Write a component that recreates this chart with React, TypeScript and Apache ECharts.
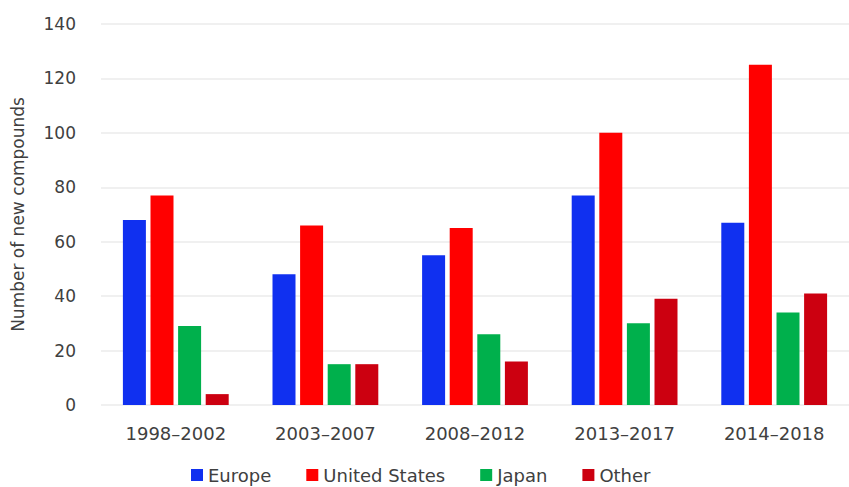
import React, { useEffect, useRef } from "react";
import * as echarts from "echarts";

const categories = ["1998–2002", "2003–2007", "2008–2012", "2013–2017", "2014–2018"];
const europe = [68, 48, 55, 77, 67];
const unitedStates = [77, 66, 65, 100, 125];
const japan = [29, 15, 26, 30, 34];
const other = [4, 15, 16, 39, 41];
const yTicks = { min: 0, max: 140, interval: 20 };

const FONT = "DejaVu Sans";
const TEXT = "#404040";

export default function App() {
  const ref = useRef<HTMLDivElement>(null);
  useEffect(() => {
    if (!ref.current) return;
    document.body.style.margin = "0";
    document.body.style.overflow = "hidden";
    const chart = echarts.init(ref.current, null, { renderer: "svg" });
    const mk = (name: string, data: number[], color: string) => ({
      name,
      type: "bar",
      data,
      barWidth: 23,
      barGap: "20%",
      itemStyle: { color },
    });
    chart.setOption({
      animation: false,
      textStyle: { fontFamily: FONT },
      grid: { left: 101, width: 758, top: 24, bottom: 82 },
      legend: {
        top: 461,
        left: 186,
        itemWidth: 12,
        itemHeight: 12,
        itemGap: 35,
        icon: "rect",
        textStyle: { fontFamily: FONT, fontSize: 18, color: TEXT },
        data: ["Europe", "United States", "Japan", "Other"],
      },
      xAxis: {
        type: "category",
        data: categories,
        axisLine: { show: false },
        axisTick: { show: false },
        axisLabel: { fontFamily: FONT, fontSize: 18, color: TEXT, margin: 19 },
      },
      yAxis: {
        type: "value",
        min: yTicks.min,
        max: yTicks.max,
        interval: yTicks.interval,
        name: "Number of new compounds",
        nameLocation: "middle",
        nameGap: 75,
        nameTextStyle: { fontFamily: FONT, fontSize: 17, color: TEXT },
        axisLabel: { fontFamily: FONT, fontSize: 17, color: TEXT, margin: 25 },
        splitLine: { lineStyle: { color: "#ebebeb", width: 1.5 } },
      },
      series: [
        mk("Europe", europe, "#1030f0"),
        mk("United States", unitedStates, "#ff0000"),
        mk("Japan", japan, "#00b04c"),
        mk("Other", other, "#cc0010"),
      ],
    });
    return () => chart.dispose();
  }, []);
  return <div ref={ref} style={{ width: 849, height: 487 }} />;
}
